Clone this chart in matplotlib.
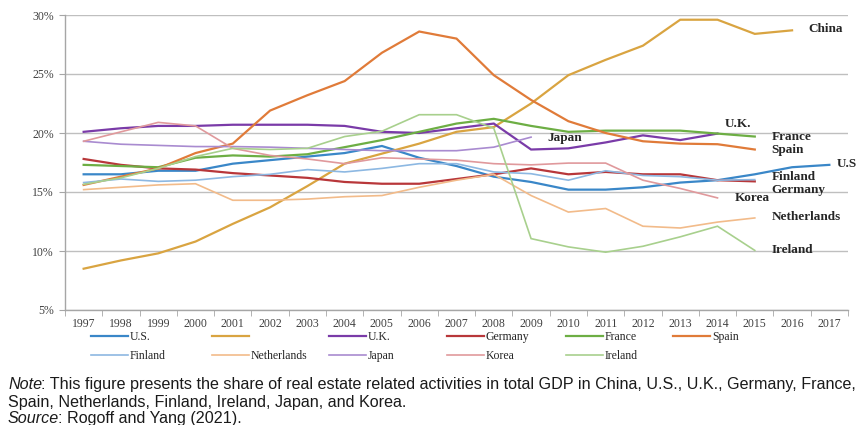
import numpy as np
import matplotlib
matplotlib.use("Agg")
from matplotlib import pyplot as plt
from matplotlib.ticker import FuncFormatter, MultipleLocator

nan = np.nan
years = list(range(1997, 2018))

us = [16.5, 16.5, 16.8, 16.8, 17.4, 17.7, 18.0, 18.3, 18.9, 17.9, 17.2, 16.3, 15.85, 15.2,
      15.2, 15.4, 15.8, 16.0, 16.5, 17.1, 17.3]
china = [8.5, 9.2, 9.8, 10.8, 12.3, 13.7, 15.5, 17.4, 18.25, 19.1, 20.1, 20.5, 22.5, 24.9,
         26.2, 27.4, 29.6, 29.6, 28.4, 28.7, nan]
uk = [20.1, 20.4, 20.6, 20.6, 20.7, 20.7, 20.7, 20.6, 20.1, 20.0, 20.4, 20.8, 18.6, 18.7,
      19.2, 19.8, 19.4, 19.95, nan, nan, nan]
germany = [17.8, 17.3, 17.0, 16.9, 16.6, 16.4, 16.2, 15.85, 15.7, 15.7, 16.1, 16.5, 17.0, 16.5,
           16.7, 16.5, 16.5, 16.0, 15.9, nan, nan]
france = [17.3, 17.2, 17.1, 17.9, 18.1, 18.0, 18.2, 18.8, 19.4, 20.1, 20.8, 21.2, 20.6, 20.1,
          20.2, 20.2, 20.2, 19.95, 19.7, nan, nan]
spain = [15.6, 16.3, 17.0, 18.3, 19.1, 21.9, 23.2, 24.4, 26.8, 28.6, 28.0, 24.9, 22.8, 21.0,
         20.0, 19.3, 19.1, 19.05, 18.6, nan, nan]
finland = [15.8, 16.1, 15.9, 16.0, 16.3, 16.5, 16.9, 16.7, 17.0, 17.4, 17.4, 16.7, 16.55, 16.0,
           16.8, 16.4, 16.3, 16.0, 16.05, nan, nan]
netherlands = [15.2, 15.4, 15.6, 15.7, 14.3, 14.3, 14.4, 14.6, 14.7, 15.4, 16.0, 16.5, 14.7, 13.3,
               13.6, 12.1, 11.95, 12.45, 12.8, nan, nan]
japan = [19.3, 19.05, 18.95, 18.85, 18.85, 18.8, 18.7, 18.6, 18.5, 18.5, 18.5, 18.8, 19.65, nan,
         nan, nan, nan, nan, nan, nan, nan]
korea = [19.3, 20.1, 20.9, 20.6, 18.7, 18.1, 17.8, 17.4, 17.9, 17.8, 17.7, 17.4, 17.3, 17.45,
         17.45, 16.0, 15.3, 14.5, nan, nan, nan]
ireland = [15.65, 16.2, 17.0, 18.0, 18.7, 18.6, 18.7, 19.7, 20.15, 21.55, 21.55, 20.4, 11.05, 10.35,
           9.9, 10.4, 11.2, 12.1, 10.05, nan, nan]

# name, data, colour, width, legend label, end label (text, x, y)
series = [
    ("U.S.", us, "#3a87c8", 1.6, "U.S.", ("U.S", 2017.2, 17.35)),
    ("China", china, "#d9a441", 1.6, "", ("China", 2016.45, 28.8)),
    ("U.K.", uk, "#7a3ba8", 1.6, "U.K.", ("U.K.", 2014.2, 20.75)),
    ("Germany", germany, "#b8373a", 1.6, "Germany", ("Germany", 2015.45, 15.2)),
    ("France", france, "#6dae44", 1.6, "France", ("France", 2015.45, 19.7)),
    ("Spain", spain, "#e07b39", 1.6, "Spain", ("Spain", 2015.45, 18.6)),
    ("Finland", finland, "#8db8e2", 1.2, "Finland", ("Finland", 2015.45, 16.3)),
    ("Netherlands", netherlands, "#f2bb8a", 1.2, "Netherlands", ("Netherlands", 2015.45, 12.85)),
    ("Japan", japan, "#a98bd0", 1.2, "Japan", ("Japan", 2009.45, 19.6)),
    ("Korea", korea, "#e0999c", 1.2, "Korea", ("Korea", 2014.45, 14.5)),
    ("Ireland", ireland, "#a8d08d", 1.2, "Ireland", ("Ireland", 2015.45, 10.05)),
]

serif = "Liberation Serif"
sans = "Liberation Sans"

fig = plt.figure(figsize=(8.63, 4.25), dpi=100)
ax = fig.add_axes([65 / 863, 1 - 310 / 425, (848 - 65) / 863, (310 - 15) / 425])

handles = {}
for name, vals, col, lw, leg, lab in series:
    ln, = ax.plot(years, vals, color=col, lw=lw, solid_joinstyle="miter", zorder=3)
    handles[name] = (ln, leg)
    t, tx, ty = lab
    ax.text(tx, ty, t, fontsize=9.5, fontweight="bold", family=serif, color="#262626",
            va="center", ha="left", zorder=4, clip_on=False)

ax.set_xlim(1996.5, 2017.5)
ax.set_ylim(5, 30)
ax.yaxis.set_major_locator(MultipleLocator(5))
ax.yaxis.set_major_formatter(FuncFormatter(lambda v, p: "%d%%" % v))
ax.set_xticks(years)
ax.set_xticks(np.arange(1996.5, 2018, 1), minor=True)
ax.tick_params(axis="x", which="major", length=0, pad=6)
ax.tick_params(axis="x", which="minor", length=4, color="#a6a6a6")
ax.tick_params(axis="y", length=4, color="#a6a6a6", pad=4)
for lbl in ax.get_xticklabels() + ax.get_yticklabels():
    lbl.set_family(serif)
    lbl.set_fontsize(8.5)
    lbl.set_color("#404040")

ax.grid(axis="y", color="#bfbfbf", lw=1)
ax.set_axisbelow(True)
for s in ["top", "right"]:
    ax.spines[s].set_visible(False)
for s in ["left", "bottom"]:
    ax.spines[s].set_color("#a6a6a6")
    ax.spines[s].set_linewidth(1)

# legend, one small legend per column so the columns sit evenly
cols = [("U.S.", "Finland"), ("China", "Netherlands"), ("U.K.", "Japan"),
        ("Germany", "Korea"), ("France", "Ireland"), ("Spain",)]
col_x = [91, 212, 329, 447, 566, 673]
for names, cx in zip(cols, col_x):
    h = [handles[n][0] for n in names]
    l = [handles[n][1] for n in names]
    lg = fig.legend(h, l, loc="upper left", bbox_to_anchor=(cx / 863, 1 - 331 / 425),
                    frameon=False, borderpad=0, borderaxespad=0, handlelength=3.1,
                    handletextpad=0.2, labelspacing=0.62,
                    prop={"family": serif, "size": 8.5})
    for t in lg.get_texts():
        t.set_color("#262626")

# notes under the chart (baselines so italic and plain parts line up)
fs = 11.6
fig.canvas.draw()
r = fig.canvas.get_renderer()
W = fig.bbox.width


def note_line(y_px, italic, rest):
    y = 1 - y_px / 425
    x = 8 / 863
    if italic:
        it = fig.text(x, y, italic, fontsize=fs, family=sans, style="italic",
                      va="baseline", color="#1a1a1a")
        x = (it.get_window_extent(r).x1 - 1) / W
    fig.text(x, y, rest, fontsize=fs, family=sans, va="baseline", color="#1a1a1a")


note_line(389, "Note", ": This figure presents the share of real estate related activities "
          "in total GDP in China, U.S., U.K., Germany, France,")
note_line(407, "", "Spain, Netherlands, Finland, Ireland, Japan, and Korea.")
note_line(423, "Source", ": Rogoff and Yang (2021).")

fig.savefig("out.png", dpi=100)
